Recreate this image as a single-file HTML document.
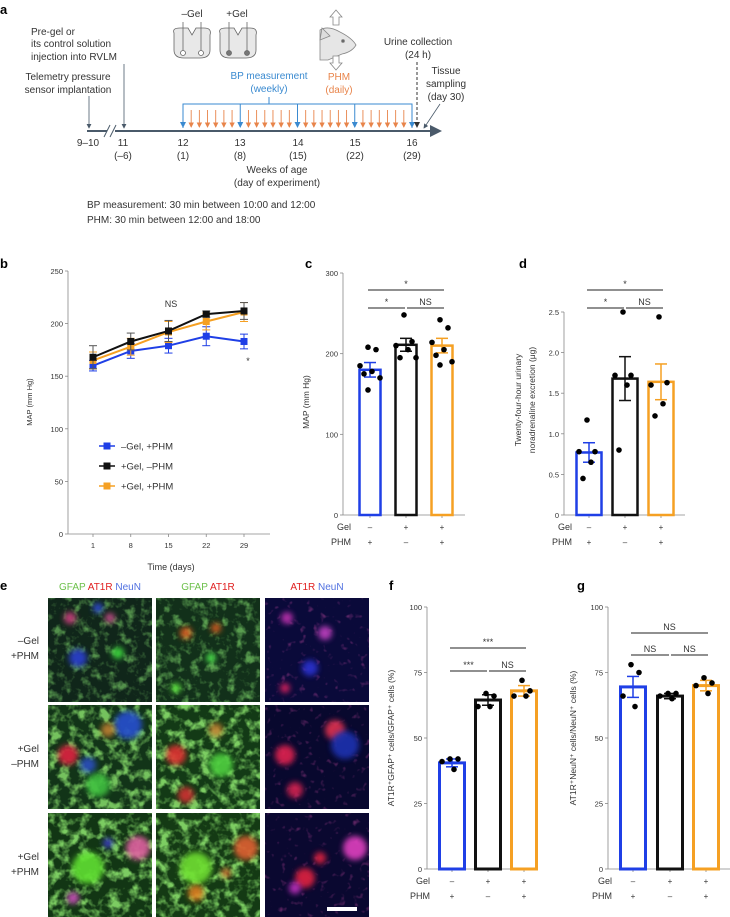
<!DOCTYPE html>
<html><head><meta charset="utf-8">
<style>
body{margin:0;background:#fff;}
svg{display:block;font-family:"Liberation Sans",sans-serif;}
</style></head>
<body>
<svg id="fig" width="730" height="917" viewBox="0 0 730 917">
<defs>
<marker id="ah" markerWidth="6" markerHeight="6" refX="5" refY="3" orient="auto"><path d="M0,0 L6,3 L0,6 z" fill="#4a5a6a"/></marker>
<marker id="ahb" markerWidth="6" markerHeight="6" refX="5" refY="3" orient="auto"><path d="M0,0 L6,3 L0,6 z" fill="#3a8ad0"/></marker>
<marker id="aho" markerWidth="6" markerHeight="6" refX="5" refY="3" orient="auto"><path d="M0,0 L6,3 L0,6 z" fill="#e8844a"/></marker>
<marker id="ahk" markerWidth="6" markerHeight="6" refX="5" refY="3" orient="auto"><path d="M0,0 L6,3 L0,6 z" fill="#333"/></marker>
<filter id="bl" x="-50%" y="-50%" width="200%" height="200%"><feGaussianBlur stdDeviation="3"/></filter>
<filter id="gtex" x="0" y="0" width="100%" height="100%"><feTurbulence type="fractalNoise" baseFrequency="0.11" numOctaves="3" seed="3"/><feColorMatrix values="0 0 0 0 0.3  0 0 0 0 0.95  0 0 0 0 0.2  3.2 0 0 0 -1.55"/></filter>
<filter id="gtex2" x="0" y="0" width="100%" height="100%"><feTurbulence type="fractalNoise" baseFrequency="0.1" numOctaves="3" seed="7"/><feColorMatrix values="0 0 0 0 0.35  0 0 0 0 1  0 0 0 0 0.2  3.4 0 0 0 -1.5"/></filter>
<filter id="rtex" x="0" y="0" width="100%" height="100%"><feTurbulence type="fractalNoise" baseFrequency="0.15" numOctaves="2" seed="5"/><feColorMatrix values="0 0 0 0 0.9  0 0 0 0 0.1  0 0 0 0 0.5  4 0 0 0 -2.5"/></filter>
</defs>

<g font-weight="bold" font-size="13" fill="#000">
<text x="0" y="14">a</text><text x="0" y="268">b</text><text x="305" y="268">c</text><text x="519" y="268">d</text>
<text x="0" y="590">e</text><text x="389" y="590">f</text><text x="577" y="590">g</text>
</g>

<g id="panelA" font-size="10" fill="#333">
<text x="31" y="35">Pre-gel or</text>
<text x="31" y="47">its control solution</text>
<text x="31" y="60">injection into RVLM</text>
<text x="68" y="80" text-anchor="middle">Telemetry pressure</text>
<text x="68" y="93" text-anchor="middle">sensor implantation</text>
<line x1="89" y1="96" x2="89" y2="128" stroke="#4a5a6a" stroke-width="0.8" marker-end="url(#ah)"/>
<line x1="124" y1="64" x2="124" y2="128" stroke="#4a5a6a" stroke-width="0.8" marker-end="url(#ah)"/>
<line x1="87" y1="131" x2="440" y2="131" stroke="#4a5a6a" stroke-width="2" marker-end="url(#ah)"/>
<rect x="107" y="125" width="8" height="12" fill="#fff"/>
<line x1="104" y1="137" x2="110" y2="125" stroke="#4a5a6a" stroke-width="1"/>
<line x1="110" y1="137" x2="116" y2="125" stroke="#4a5a6a" stroke-width="1"/>
<g text-anchor="middle">
<text x="88" y="146">9–10</text><text x="123" y="146">11</text><text x="123" y="159">(–6)</text>
<text x="183" y="146">12</text><text x="183" y="159">(1)</text>
<text x="240" y="146">13</text><text x="240" y="159">(8)</text>
<text x="298" y="146">14</text><text x="298" y="159">(15)</text>
<text x="355" y="146">15</text><text x="355" y="159">(22)</text>
<text x="412" y="146">16</text><text x="412" y="159">(29)</text>
<text x="277" y="173">Weeks of age</text><text x="277" y="186">(day of experiment)</text>
</g>
<text x="87" y="208">BP measurement: 30 min between 10:00 and 12:00</text>
<text x="87" y="223">PHM: 30 min between 12:00 and 18:00</text>
<g id="arrowsA"></g>
<text x="269" y="79" fill="#3a8ad0" text-anchor="middle">BP measurement</text>
<text x="269" y="92" fill="#3a8ad0" text-anchor="middle">(weekly)</text>
<text x="339" y="80" fill="#e8844a" text-anchor="middle">PHM</text>
<text x="339" y="93" fill="#e8844a" text-anchor="middle">(daily)</text>
<text x="418" y="45" text-anchor="middle">Urine collection</text>
<text x="418" y="58" text-anchor="middle">(24 h)</text>
<line x1="417" y1="62" x2="417" y2="127" stroke="#333" stroke-width="1" stroke-dasharray="3,2" marker-end="url(#ahk)"/>
<text x="446" y="74" text-anchor="middle">Tissue</text>
<text x="446" y="87" text-anchor="middle">sampling</text>
<text x="446" y="100" text-anchor="middle">(day 30)</text>
<line x1="440" y1="104" x2="424" y2="128" stroke="#4a5a6a" stroke-width="0.8" marker-end="url(#ah)"/>
<text x="192" y="17" text-anchor="middle">–Gel</text>
<text x="237" y="17" text-anchor="middle">+Gel</text>
<g stroke="#666" stroke-width="0.8">
<path d="M174,33 Q172,28 180,28 L188,28 L192,35 L196,28 L204,28 Q212,28 210,35 L210,50 Q210,58 200,58 L184,58 Q174,58 174,50 Z" fill="#e8e8e8"/>
<line x1="183" y1="22" x2="183" y2="53"/><line x1="201" y1="22" x2="201" y2="53"/>
<circle cx="183" cy="53" r="2.5" fill="#fff"/><circle cx="201" cy="53" r="2.5" fill="#fff"/>
</g>
<g stroke="#666" stroke-width="0.8">
<path d="M220,33 Q218,28 226,28 L234,28 L238,35 L242,28 L250,28 Q258,28 256,35 L256,50 Q256,58 246,58 L230,58 Q220,58 220,50 Z" fill="#e8e8e8"/>
<line x1="229" y1="22" x2="229" y2="53"/><line x1="247" y1="22" x2="247" y2="53"/>
<circle cx="229" cy="53" r="2.5" fill="#777"/><circle cx="247" cy="53" r="2.5" fill="#777"/>
</g>
<g stroke="#888" stroke-width="0.8">
<path d="M336,10 L342,17 L339,17 L339,25 L333,25 L333,17 L330,17 Z" fill="#fff"/>
<path d="M320,30 Q328,25 340,32 Q352,38 356,45 Q352,52 342,54 L328,60 L320,60 Z" fill="#e6e6e6"/>
<path d="M322,28 L330,36 L320,40 Z" fill="#ddd"/>
<circle cx="343" cy="41" r="1.5" fill="#666"/>
<path d="M336,70 L342,63 L339,63 L339,56 L333,56 L333,63 L330,63 Z" fill="#fff"/>
</g>
</g>

<g id="panelE">
<g font-size="10" text-anchor="middle">
<text x="100" y="590"><tspan fill="#6cc04a">GFAP </tspan><tspan fill="#e02020">AT1R </tspan><tspan fill="#5070e0">NeuN</tspan></text>
<text x="208" y="590"><tspan fill="#6cc04a">GFAP </tspan><tspan fill="#e02020">AT1R</tspan></text>
<text x="317" y="590"><tspan fill="#e02020">AT1R </tspan><tspan fill="#5070e0">NeuN</tspan></text>
</g>
<g font-size="10" fill="#333" text-anchor="end">
<text x="39" y="644">–Gel</text><text x="39" y="659">+PHM</text>
<text x="39" y="752">+Gel</text><text x="39" y="767">–PHM</text>
<text x="39" y="860">+Gel</text><text x="39" y="875">+PHM</text>
</g>
<g id="tiles"></g>
</g>

<g id="charts"></g>
</svg>

<script>
const bDays = [1, 8, 15, 22, 29];
const bBlue = [160, 174, 179, 188, 183];
const bBlueErr = [5, 7, 7, 9, 7];
const bBlack = [168, 183, 193, 209, 212];
const bBlackErr = [11, 8, 10, 3, 8];
const bOrange = [165, 178, 192, 202, 211];
const bOrangeErr = [8, 8, 10, 8, 9];
const bTicks = [0, 50, 100, 150, 200, 250];

const groups = ['blue', 'black', 'orange'];
const gelSigns = ['–', '+', '+'];
const phmSigns = ['+', '–', '+'];
const cMeans = [180, 211, 210];
const cErr = [9, 8, 9];
const cDotsBlue = [208, 205, 185, 178, 175, 170, 155];
const cDotsBlack = [248, 215, 210, 205, 195, 195];
const cDotsOrange = [242, 232, 214, 205, 198, 190, 186];
const cTicks = [0, 100, 200, 300];

const dMeans = [0.77, 1.68, 1.64];
const dErr = [0.12, 0.27, 0.22];
const dDotsBlue = [1.17, 0.78, 0.78, 0.65, 0.45];
const dDotsBlack = [2.5, 1.72, 1.72, 1.6, 0.8];
const dDotsOrange = [2.44, 1.63, 1.6, 1.37, 1.22];
const dTicks = [0, 0.5, 1.0, 1.5, 2.0, 2.5];
const dTickLabels = ['0', '0.5', '1.0', '1.5', '2.0', '2.5'];

const fMeans = [40.5, 64.5, 68];
const fErr = [1.5, 2, 2];
const fDotsBlue = [42, 42, 41, 38];
const fDotsBlack = [67, 66, 62, 62];
const fDotsOrange = [72, 68, 66, 66];
const fgTicks = [0, 25, 50, 75, 100];

const gMeans = [69.5, 66, 70];
const gErr = [4, 1, 2];
const gDotsBlue = [78, 75, 66, 62];
const gDotsBlack = [67, 67, 66, 65];
const gDotsOrange = [73, 71, 70, 67];

const COL = {blue: '#1f3fe6', black: '#111111', orange: '#f5a023'};
const NS = 'http://www.w3.org/2000/svg';
const root = document.getElementById('charts');

function mk(parent, tag, attrs, name, inter) {
  const el = document.createElementNS(NS, tag);
  for (const k in attrs) el.setAttribute(k, attrs[k]);
  
  
  parent.appendChild(el);
  return el;
}
function txt(parent, x, y, s, attrs, name) {
  const t = mk(parent, 'text', Object.assign({x: x, y: y, 'font-size': 8, fill: '#333'}, attrs || {}), name, false);
  t.textContent = s;
  return t;
}

(function () {
  const g = document.getElementById('arrowsA');
  const x0 = 183, x1 = 412;
  const dayX = d => x0 + (d - 1) * (x1 - x0) / 28;
  mk(g, 'path', {d: 'M' + x0 + ',128 L' + x0 + ',104 L' + x1 + ',104 L' + x1 + ',128', fill: 'none', stroke: '#3a8ad0', 'stroke-width': 1}, 'bp-bracket', false);
  mk(g, 'line', {x1: 269, y1: 97, x2: 269, y2: 104, stroke: '#3a8ad0', 'stroke-width': 1}, 'bp-bracket-tick', false);
  for (let d = 1; d <= 29; d++) {
    if ((d - 1) % 7 === 0) {
      mk(g, 'line', {x1: dayX(d), y1: 104, x2: dayX(d), y2: 127, stroke: '#3a8ad0', 'stroke-width': 1, 'marker-end': 'url(#ahb)'}, 'bp-arrow', false);
    } else {
      mk(g, 'line', {x1: dayX(d), y1: 110, x2: dayX(d), y2: 127, stroke: '#e8844a', 'stroke-width': 0.9, 'marker-end': 'url(#aho)'}, 'phm-arrow', false);
    }
  }
})();

(function () {
  const g = mk(root, 'g', {}, 'map-time-chart', false);
  const ax = 68, y0 = 534;
  const y = v => y0 - v * (263 / 250);
  const x = d => 93 + (d - 1) * (151 / 28);
  mk(g, 'line', {x1: ax, y1: y(0), x2: ax, y2: y(250), stroke: '#888', 'stroke-width': 0.8}, 'y-axis', false);
  mk(g, 'line', {x1: ax, y1: y0, x2: 270, y2: y0, stroke: '#888', 'stroke-width': 0.8}, 'x-axis', false);
  bTicks.forEach(v => {
    mk(g, 'line', {x1: ax - 3, y1: y(v), x2: ax, y2: y(v), stroke: '#888', 'stroke-width': 0.8}, 'y-tick', false);
    txt(g, ax - 5, y(v) + 3, String(v), {'text-anchor': 'end', 'font-size': 7.5}, 'y-tick-label');
  });
  bDays.forEach(d => {
    mk(g, 'line', {x1: x(d), y1: y0, x2: x(d), y2: y0 + 3, stroke: '#888', 'stroke-width': 0.8}, 'x-tick', false);
    txt(g, x(d), y0 + 14, String(d), {'text-anchor': 'middle', 'font-size': 7.5}, 'x-tick-label');
  });
  txt(g, 171, 570, 'Time (days)', {'text-anchor': 'middle', 'font-size': 9}, 'x-axis-title');
  txt(g, 32, 402, 'MAP (mm Hg)', {'text-anchor': 'middle', 'font-size': 7.5, transform: 'rotate(-90 32 402)'}, 'y-axis-title');
  const series = [['blue', bBlue, bBlueErr], ['orange', bOrange, bOrangeErr], ['black', bBlack, bBlackErr]];
  series.forEach(([c, vals, errs]) => {
    const sg = mk(g, 'g', {}, 'series-' + c, false);
    vals.forEach((v, i) => {
      mk(sg, 'line', {x1: x(bDays[i]), y1: y(v - errs[i]), x2: x(bDays[i]), y2: y(v + errs[i]), stroke: c === 'black' ? '#555' : COL[c], 'stroke-width': 1}, 'error-bar', false);
      mk(sg, 'line', {x1: x(bDays[i]) - 4, y1: y(v + errs[i]), x2: x(bDays[i]) + 4, y2: y(v + errs[i]), stroke: c === 'black' ? '#555' : COL[c], 'stroke-width': 1}, 'error-cap', false);
      mk(sg, 'line', {x1: x(bDays[i]) - 4, y1: y(v - errs[i]), x2: x(bDays[i]) + 4, y2: y(v - errs[i]), stroke: c === 'black' ? '#555' : COL[c], 'stroke-width': 1}, 'error-cap', false);
    });
    mk(sg, 'polyline', {points: vals.map((v, i) => x(bDays[i]) + ',' + y(v)).join(' '), fill: 'none', stroke: COL[c], 'stroke-width': 2}, 'line-' + c, false);
    vals.forEach((v, i) => {
      mk(sg, 'rect', {x: x(bDays[i]) - 3.5, y: y(v) - 3.5, width: 7, height: 7, fill: COL[c]}, 'point-' + c, false);
    });
  });
  txt(g, 171, 307, 'NS', {'text-anchor': 'middle', 'font-size': 9}, 'ns-label');
  txt(g, 248, 364, '*', {'text-anchor': 'middle', 'font-size': 9}, 'sig-star');
  const legs = [['blue', '–Gel, +PHM'], ['black', '+Gel, –PHM'], ['orange', '+Gel, +PHM']];
  legs.forEach(([c, s], i) => {
    const ly = 446 + i * 20;
    const lg = mk(g, 'g', {}, 'legend-entry-' + c, false);
    mk(lg, 'line', {x1: 99, y1: ly, x2: 115, y2: ly, stroke: COL[c], 'stroke-width': 1.5}, 'legend-line', false);
    mk(lg, 'rect', {x: 103.5, y: ly - 3.5, width: 7, height: 7, fill: COL[c]}, 'legend-marker', false);
    txt(lg, 121, ly + 3.5, s, {'font-size': 9.5}, 'legend-label');
  });
})();

function barChart(opts) {
  const g = mk(root, 'g', {}, opts.name, false);
  const y = v => opts.y0 - (v - 0) * opts.scale;
  mk(g, 'line', {x1: opts.ax, y1: opts.y0, x2: opts.ax, y2: y(opts.ticks[opts.ticks.length - 1]), stroke: '#888', 'stroke-width': 0.8}, 'y-axis', false);
  mk(g, 'line', {x1: opts.ax, y1: opts.y0, x2: opts.axEnd, y2: opts.y0, stroke: '#888', 'stroke-width': 0.8}, 'x-axis', false);
  opts.ticks.forEach((v, i) => {
    mk(g, 'line', {x1: opts.ax - 3, y1: y(v), x2: opts.ax, y2: y(v), stroke: '#888', 'stroke-width': 0.8}, 'y-tick', false);
    txt(g, opts.ax - 5, y(v) + 3, opts.tickLabels ? opts.tickLabels[i] : String(v), {'text-anchor': 'end', 'font-size': 7.5}, 'y-tick-label');
  });
  opts.titles.forEach((t, i) => {
    const tx = opts.titleX + i * 14, ty = opts.titleY;
    txt(g, tx, ty, t, {'text-anchor': 'middle', 'font-size': 8.5, transform: 'rotate(-90 ' + tx + ' ' + ty + ')'}, 'y-axis-title');
  });
  const dots = [opts.dotsBlue, opts.dotsBlack, opts.dotsOrange];
  groups.forEach((c, i) => {
    const cx = opts.centers[i], bw = opts.bw;
    const v = opts.means[i], e = opts.errs[i];
    mk(g, 'line', {x1: cx, y1: opts.y0, x2: cx, y2: opts.y0 + 3, stroke: '#888', 'stroke-width': 0.8}, 'x-tick', false);
    mk(g, 'rect', {x: cx - bw / 2, y: y(v), width: bw, height: opts.y0 - y(v), fill: 'none', stroke: COL[c], 'stroke-width': opts.sw}, 'bar-' + c, false);
    mk(g, 'line', {x1: cx, y1: y(v - e), x2: cx, y2: y(v + e), stroke: COL[c], 'stroke-width': 1.5}, 'error-bar-' + c, false);
    mk(g, 'line', {x1: cx - 6, y1: y(v + e), x2: cx + 6, y2: y(v + e), stroke: COL[c], 'stroke-width': 1.5}, 'error-cap', false);
    mk(g, 'line', {x1: cx - 6, y1: y(v - e), x2: cx + 6, y2: y(v - e), stroke: COL[c], 'stroke-width': 1.5}, 'error-cap', false);
    dots[i].forEach((dv, k) => {
      const off = (k % 2 === 0 ? -1 : 1) * ((k % 3) * 4 + 2);
      mk(g, 'circle', {cx: cx + off, cy: y(dv), r: 2.8, fill: '#000'}, 'data-point', false);
    });
    txt(g, cx, opts.y0 + 15, gelSigns[i], {'text-anchor': 'middle', 'font-size': 8}, 'gel-sign');
    txt(g, cx, opts.y0 + 30, phmSigns[i], {'text-anchor': 'middle', 'font-size': 8}, 'phm-sign');
  });
  txt(g, opts.labX, opts.y0 + 15, 'Gel', {'text-anchor': 'end', 'font-size': 9}, 'gel-row-label');
  txt(g, opts.labX, opts.y0 + 30, 'PHM', {'text-anchor': 'end', 'font-size': 9}, 'phm-row-label');
  const c = opts.centers;
  const sig = [[c[0] - 2, c[2] + 2, opts.sigTop, opts.sig[0]], [c[0] - 2, c[1] - 1, opts.sigLow, opts.sig[1]], [c[1] + 1, c[2] + 2, opts.sigLow, opts.sig[2]]];
  sig.forEach(([x1, x2, yy, s]) => {
    mk(g, 'line', {x1: x1, y1: yy, x2: x2, y2: yy, stroke: '#222', 'stroke-width': 1}, 'significance-line', false);
    txt(g, (x1 + x2) / 2, yy - 3, s, {'text-anchor': 'middle', 'font-size': 9}, 'significance-label');
  });
}

barChart({name: 'map-bar-chart', ax: 343, axEnd: 465, y0: 515, scale: 242 / 300, ticks: cTicks,
  centers: [370, 406, 442], bw: 21, sw: 2.5, means: cMeans, errs: cErr,
  dotsBlue: cDotsBlue, dotsBlack: cDotsBlack, dotsOrange: cDotsOrange,
  titles: ['MAP (mm Hg)'], titleX: 309, titleY: 402, labX: 351, sigTop: 290, sigLow: 308, sig: ['*', '*', 'NS']});

barChart({name: 'noradrenaline-bar-chart', ax: 564, axEnd: 685, y0: 515, scale: 203 / 2.5, ticks: dTicks, tickLabels: dTickLabels,
  centers: [589, 625, 661], bw: 25, sw: 2.5, means: dMeans, errs: dErr,
  dotsBlue: dDotsBlue, dotsBlack: dDotsBlack, dotsOrange: dDotsOrange,
  titles: ['Twenty-four-hour urinary', 'noradrenaline excretion  (μg)'], titleX: 521, titleY: 400, labX: 572, sigTop: 290, sigLow: 308, sig: ['*', '*', 'NS']});

barChart({name: 'gfap-bar-chart', ax: 427, axEnd: 537, y0: 869, scale: 262 / 100, ticks: fgTicks,
  centers: [452, 488, 524], bw: 25, sw: 3, means: fMeans, errs: fErr,
  dotsBlue: fDotsBlue, dotsBlack: fDotsBlack, dotsOrange: fDotsOrange,
  titles: ['AT1R⁺GFAP⁺ cells/GFAP⁺ cells (%)'], titleX: 394, titleY: 738, labX: 430, sigTop: 648, sigLow: 671, sig: ['***', '***', 'NS']});

barChart({name: 'neun-bar-chart', ax: 608, axEnd: 730, y0: 869, scale: 262 / 100, ticks: fgTicks,
  centers: [633, 670, 706], bw: 25, sw: 3, means: gMeans, errs: gErr,
  dotsBlue: gDotsBlue, dotsBlack: gDotsBlack, dotsOrange: gDotsOrange,
  titles: ['AT1R⁺NeuN⁺ cells/NeuN⁺ cells (%)'], titleX: 576, titleY: 738, labX: 612, sigTop: 633, sigLow: 655, sig: ['NS', 'NS', 'NS']});

(function () {
  const tg = document.getElementById('tiles');
  const cols = [48, 156, 265], rows = [598, 705, 813];
  const bases = [['#10261a', '#12301a', '#0a0a3a'], ['#123418', '#133a16', '#08082e'], ['#123614', '#143a14', '#0a0830']];
  const tex = [['gtex', 'gtex', 'rtex'], ['gtex2', 'gtex2', 'rtex'], ['gtex2', 'gtex2', 'rtex']];
  const texOp = [[0.5, 0.55, 0.35], [0.7, 0.75, 0.35], [0.75, 0.75, 0.35]];
  const blobs = [
    [[[22, 20, 6, '#d04080'], [50, 10, 5, '#3050e0'], [30, 60, 9, '#2a40d0'], [70, 55, 6, '#40e040'], [62, 20, 5, '#d05090']],
     [[30, 35, 6, '#e06020'], [60, 30, 5, '#e06020'], [55, 60, 5, '#50f050'], [20, 90, 5, '#60f040']],
     [[22, 20, 6, '#c030b0'], [60, 35, 7, '#c040c0'], [45, 70, 8, '#2a30d0'], [20, 90, 5, '#e02060']]],
    [[[20, 50, 10, '#e02040'], [80, 20, 14, '#2850d0'], [60, 25, 7, '#c08030'], [40, 60, 8, '#2a50c0'], [50, 80, 12, '#40c040']],
     [[20, 50, 10, '#e03030'], [60, 25, 7, '#c08030'], [65, 60, 12, '#50d040'], [30, 90, 8, '#d03030']],
     [[20, 50, 10, '#e02050'], [70, 25, 10, '#e03050'], [80, 40, 14, '#1c30b0'], [30, 85, 8, '#d02050']]],
    [[[90, 35, 12, '#e060a0'], [40, 55, 16, '#60e030'], [25, 85, 6, '#d050c0'], [60, 30, 5, '#4040d0']],
     [[90, 35, 12, '#e06030'], [40, 55, 16, '#70e030'], [40, 80, 8, '#e08020'], [70, 60, 5, '#d07030']],
     [[90, 35, 12, '#e040c0'], [40, 65, 10, '#e02040'], [55, 45, 6, '#e02040'], [30, 75, 6, '#c030c0']]]
  ];
  rows.forEach((ry, r) => cols.forEach((cx, c) => {
    const t = mk(tg, 'g', {}, 'micrograph-r' + (r + 1) + '-c' + (c + 1), false);
    const cid = 'clip' + r + c;
    const cp = mk(t, 'clipPath', {id: cid}, 'tile-clip', false);
    mk(cp, 'rect', {x: cx, y: ry, width: 104, height: 104}, 'clip-rect', false);
    const inner = mk(t, 'g', {'clip-path': 'url(#' + cid + ')'}, 'tile-content', false);
    mk(inner, 'rect', {x: cx, y: ry, width: 104, height: 104, fill: bases[r][c]}, 'tile-background', false);
    mk(inner, 'rect', {x: cx, y: ry, width: 104, height: 104, fill: '#fff', filter: 'url(#' + tex[r][c] + ')', opacity: texOp[r][c]}, 'tile-texture', false);
    blobs[r][c].forEach(b => {
      mk(inner, 'circle', {cx: cx + b[0], cy: ry + b[1], r: b[2], fill: b[3], filter: 'url(#bl)', opacity: 0.9}, 'cell-blob', false);
    });
  }));
  mk(tg, 'rect', {x: 327, y: 907, width: 30, height: 4, fill: '#fff'}, 'scale-bar', false);
})();
</script>
</body></html>
